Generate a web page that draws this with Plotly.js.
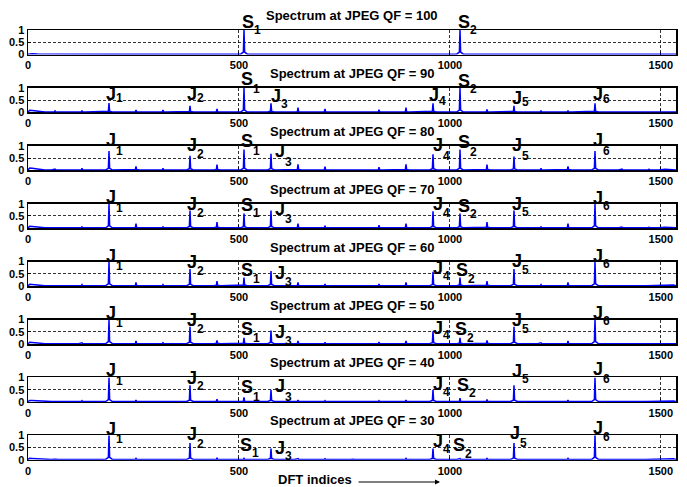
<!DOCTYPE html>
<html><head><meta charset="utf-8">
<script src="https://cdn.plot.ly/plotly-3.0.1.min.js"></script>
<style>body{margin:0;background:#fff}#chart{width:687px;height:487px}</style>
</head><body><div id="chart"></div>
<script>
const dftLength = 1536;
const qfLevels = [100, 90, 80, 70, 60, 50, 40, 30];
const peakIndices = [64,128,192,256,320,384,448,512,576,640,704,768,832,896,960,1024,1088,1152,1216,1280,1344,1408,1472];
const magQF100 = [0.01,0.01,0.02,0.01,0.01,0.01,0.01,1.00,0.01,0.01,0.01,0.01,0.01,0.01,0.01,1.00,0.01,0.01,0.01,0.01,0.01,0.01,0.01];
const magQF90  = [0.07,0.07,0.38,0.10,0.10,0.27,0.14,1.00,0.37,0.19,0.14,0.04,0.11,0.20,0.37,1.00,0.12,0.27,0.07,0.07,0.37,0.03,0.04];
const magQF80  = [0.05,0.08,0.79,0.16,0.08,0.59,0.23,0.85,0.67,0.24,0.15,0.04,0.13,0.24,0.65,0.85,0.23,0.56,0.08,0.16,0.79,0.05,0.04];
const magQF70  = [0.04,0.07,1.00,0.19,0.07,0.72,0.25,0.60,0.72,0.19,0.10,0.04,0.12,0.19,0.69,0.60,0.25,0.72,0.07,0.19,1.00,0.05,0.04];
const magQF60  = [0.04,0.06,1.00,0.15,0.06,0.70,0.20,0.35,0.62,0.15,0.08,0.03,0.09,0.15,0.58,0.35,0.20,0.70,0.06,0.15,1.00,0.04,0.03];
const magQF50  = [0.03,0.05,1.00,0.12,0.05,0.70,0.15,0.25,0.55,0.12,0.07,0.03,0.08,0.12,0.52,0.25,0.15,0.70,0.05,0.12,1.00,0.04,0.03];
const magQF40  = [0.03,0.05,1.00,0.08,0.04,0.68,0.11,0.18,0.49,0.07,0.05,0.02,0.05,0.08,0.49,0.15,0.10,0.68,0.04,0.08,1.00,0.03,0.03];
const magQF30  = [0.03,0.04,1.00,0.06,0.03,0.68,0.08,0.06,0.46,0.05,0.04,0.02,0.04,0.06,0.46,0.05,0.07,0.68,0.03,0.06,1.00,0.03,0.03];
const dcHump   = [0.03,0.09,0.09,0.08,0.07,0.07,0.06,0.06];
const tailHump = [0.03,0.04,0.04,0.04,0.04,0.04,0.04,0.04];
const floorLevel = 0.015;
const xTickVals = [0, 500, 1000, 1500];
const xTickText = ['0', '500', '1000', '1500'];
const yTickVals = [0, 0.5, 1];
const yTickText = ['0', '0.5', '1'];
const magnitudes = [magQF100, magQF90, magQF80, magQF70, magQF60, magQF50, magQF40, magQF30];

// Peak labels: letter, subscript
const labelNames = [['J','1'],['J','2'],['S','1'],['J','3'],['J','4'],['S','2'],['J','5'],['J','6']];
// layout positions of labels (pixel left edges, letter/sub heights in axis-domain units)
const labelLeftPx = [
  [null,null,241.5,null,null,458.3,null,null],
  [106,186.7,240.7,270.7,429.3,458.3,511.5,592.7],
  [106,186.7,240.7,275,432.7,458.3,511.5,592.7],
  [106,186.7,240.7,275,432.7,458.3,511.5,592.7],
  [106,186.7,240.7,275,432.7,456,511.5,592.7],
  [106,186.7,240.7,275,432.7,455,511.5,592.7],
  [106,186.7,240.7,275,432.7,456.7,511.5,592.7],
  [106,186.7,240,275,432.7,453.3,510,592.7]
];
const labelLetterY = [
  [0,0,1.33,0,0,1.33,0,0],
  [0.76,0.76,1.36,0.67,0.72,1.29,0.59,0.76],
  [1.24,1.04,1.18,0.78,1.02,1.16,1.04,1.22],
  [1.27,1.00,0.96,0.80,1.00,0.90,1.00,1.24],
  [1.24,1.00,0.65,0.53,0.73,0.65,1.02,1.24],
  [1.27,1.00,0.63,0.49,0.67,0.63,1.00,1.27],
  [1.29,0.98,0.61,0.65,0.73,0.67,1.27,1.35],
  [1.24,1.06,0.61,0.49,0.78,0.59,1.10,1.31]
];
const labelSubY = [
  [0,0,1.0,0,0,1.0,0,0],
  [0.57,0.57,0.96,0.35,0.47,0.96,0.41,0.55],
  [0.78,0.67,0.78,0.35,0.57,0.73,0.59,0.80],
  [0.82,0.63,0.61,0.39,0.63,0.59,0.65,0.92],
  [0.82,0.63,0.30,0.15,0.40,0.30,0.65,0.90],
  [0.85,0.63,0.25,0.12,0.35,0.25,0.62,0.92],
  [0.84,0.63,0.22,0.22,0.41,0.35,0.92,0.92],
  [0.86,0.63,0.29,0.14,0.43,0.22,0.69,0.92]
];

const W = 687, H = 487, ML = 28, MR = 11;
const plotW = W - ML - MR;
const pxToX = px => (px - ML) / plotW * dftLength;

const blue = 'rgb(0,0,255)';
const font = 'Liberation Sans, Arial, Helvetica, sans-serif';
const traces = [];
const annotations = [];
const layout = {
  width: W, height: H, margin: {l: ML, r: MR, t: 0, b: 0},
  paper_bgcolor: '#fff', plot_bgcolor: '#fff', showlegend: false,
  annotations: annotations
};

qfLevels.forEach((qf, k) => {
  const n = k + 1;
  const sfx = n === 1 ? '' : String(n);
  const xs = [], ys = [];
  const mags = magnitudes[k];
  xs.push(0, 4, 10, 22, 40); ys.push(floorLevel, dcHump[k], dcHump[k]*0.9, dcHump[k]*0.6, floorLevel);
  peakIndices.forEach((p, i) => {
    const h = mags[i];
    xs.push(p-8, p-1.5, p, p+1.5, p+8);
    ys.push(floorLevel, floorLevel + 0.08*h, h, floorLevel + 0.08*h, floorLevel);
  });
  xs.push(1495, 1510, 1530, 1536); ys.push(floorLevel, tailHump[k], tailHump[k], floorLevel);
  traces.push({
    type: 'scatter', mode: 'lines', x: xs, y: ys,
    xaxis: 'x' + sfx, yaxis: 'y' + sfx,
    line: {color: blue, width: 1.5}, hoverinfo: 'skip'
  });
  const top = 30 + 57.9 * k, bottom = top + 24.5;
  const axCommon = {
    showline: true, linecolor: '#000', linewidth: 1.5, mirror: true,
    showgrid: true, gridcolor: '#000', gridwidth: 0.8, griddash: '3px,2px',
    zeroline: false, ticks: 'inside', ticklen: 3, tickcolor: '#000',
    tickfont: {family: font, size: 11, color: '#000', weight: 'bold'},
    layer: 'below traces', fixedrange: true
  };
  layout['xaxis' + sfx] = Object.assign({}, axCommon, {
    range: [0, dftLength], tickmode: 'array', tickvals: xTickVals, ticktext: xTickText,
    anchor: 'y' + sfx, domain: [0, 1]
  });
  layout['yaxis' + sfx] = Object.assign({}, axCommon, {
    range: [0, 1], tickmode: 'array', tickvals: yTickVals, ticktext: yTickText,
    anchor: 'x' + sfx, domain: [(H - bottom) / H, (H - top) / H]
  });
  const xr = 'x' + sfx, yd = 'y' + sfx + ' domain';
  annotations.push({
    xref: xr + ' domain', yref: yd, x: 0.5, y: 1, xanchor: 'center', yanchor: 'bottom',
    yshift: 5, showarrow: false, text: 'Spectrum at JPEG QF = ' + qf,
    font: {family: font, size: 13, color: '#000', weight: 'bold'}
  });
  labelNames.forEach((nm, i) => {
    const left = labelLeftPx[k][i];
    if (left === null) return;
    annotations.push({
      xref: xr, yref: yd, x: pxToX(left), y: labelLetterY[k][i], xanchor: 'left', yanchor: 'middle',
      xshift: -2, showarrow: false, text: nm[0],
      font: {family: font, size: 18, color: '#000', weight: 'bold'}
    });
    const subLeft = left + (nm[0] === 'S' ? 11.5 : 9.5);
    annotations.push({
      xref: xr, yref: yd, x: pxToX(subLeft), y: labelSubY[k][i], xanchor: 'left', yanchor: 'middle',
      xshift: -1.5, showarrow: false, text: nm[1],
      font: {family: font, size: 12, color: '#000', weight: 'bold'}
    });
  });
});

annotations.push({
  xref: 'paper', yref: 'paper', x: (315 - ML) / plotW, y: (H - 479) / H, xanchor: 'center', yanchor: 'middle',
  showarrow: false, text: 'DFT indices', font: {family: font, size: 13, color: '#000', weight: 'bold'}
});
annotations.push({
  xref: 'paper', yref: 'paper', x: (440 - ML) / plotW, y: (H - 482) / H,
  showarrow: true, text: '', ax: -83, ay: 0, axref: 'pixel', ayref: 'pixel',
  arrowhead: 2, arrowsize: 1, arrowwidth: 1, arrowcolor: '#000', standoff: 0, startstandoff: 0
});

Plotly.newPlot('chart', traces, layout, {displayModeBar: false, staticPlot: true});
</script></body></html>
